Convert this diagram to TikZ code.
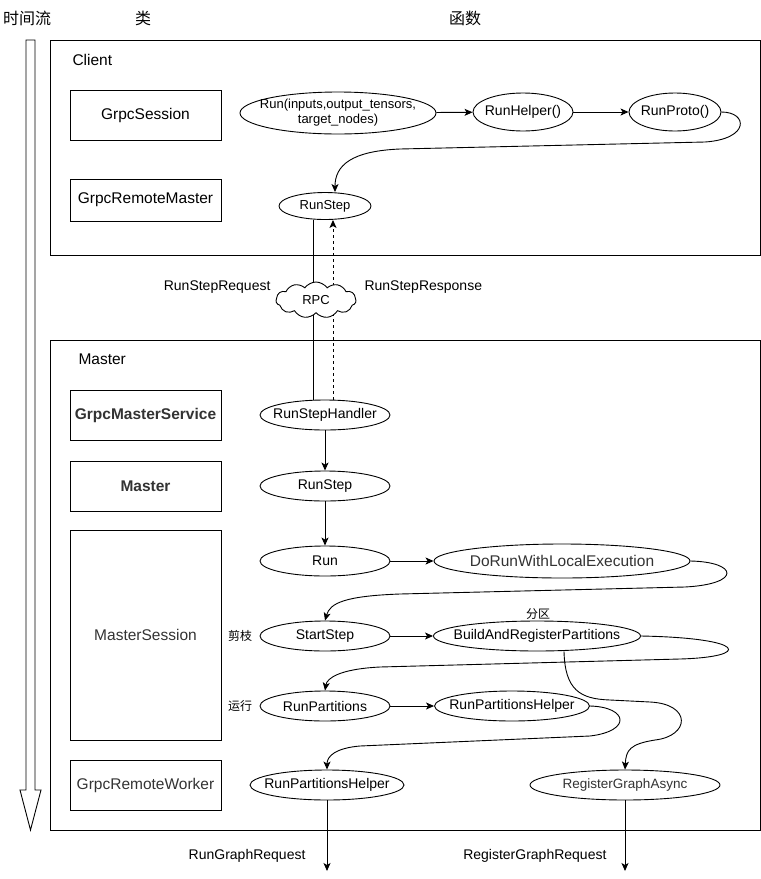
\documentclass[tikz,border=0pt]{standalone}
\usepackage{fontspec}
\setmainfont{Liberation Sans}
\newfontfamily\cjk{Noto Sans CJK SC}
\usetikzlibrary{shapes.geometric,shapes.symbols,arrows.meta}
\definecolor{dg}{HTML}{333333}
\begin{document}
\begin{tikzpicture}[x=1pt,y=-1pt,
  every node/.style={font=\fontsize{14}{16}\selectfont},
  cls/.style={draw, line width=1pt, minimum width=151pt, minimum height=50pt, inner sep=0pt, font=\fontsize{15.5}{18}\selectfont},
  fn/.style={draw, ellipse, line width=0.9pt, inner xsep=-60pt, inner ysep=-20pt, minimum height=30pt, font=\fontsize{14}{16}\selectfont},
  arr/.style={line width=0.9pt, -{Stealth[length=8pt,width=7pt,inset=2pt]}},
  ln/.style={line width=0.9pt},
  cont/.style={draw, line width=1pt},
  cn/.style={font=\cjk\fontsize{12}{14}\selectfont},
  tl/.style={font=\cjk\fontsize{16}{18}\selectfont},
]
\useasboundingbox (0,0) rectangle (761,879);
\fill[white] (0,0) rectangle (761,879);

% top labels
\node[tl] (t1) at (27,18) {时间流};
\node[tl] (t2) at (143,18) {类};
\node[tl] (t3) at (465,18) {函数};

% time arrow
\draw[line width=0.9pt] (26,40) -- (35,40) -- (35,790) -- (41,790) -- (30.5,830) -- (20,790) -- (26,790) -- cycle;

% containers
\draw[cont] (50,40) rectangle (760,255);
\draw[cont] (50,340) rectangle (760,830);
\node[anchor=west, font=\fontsize{15.5}{18}\selectfont] (clientlbl) at (69,60) {Client};
\node[anchor=west, font=\fontsize{15.5}{18}\selectfont] (masterlbl) at (75,359) {Master};

% class boxes
\node[cls] (gs) at (145.5,115) {GrpcSession};
\node[cls, minimum height=42pt] (grm) at (145.5,200) {GrpcRemoteMaster};
\node[cls, text=dg, font=\bfseries\fontsize{15.5}{18}\selectfont] (gms) at (145.5,415) {GrpcMasterService};
\node[cls, text=dg, font=\bfseries\fontsize{15.5}{18}\selectfont] (mst) at (145.5,486) {Master};
\node[cls, text=dg, minimum height=210pt] (ms) at (145.5,635) {MasterSession};
\node[cls, text=dg] (grw) at (145.5,785) {GrpcRemoteWorker};

% client functions
\node[fn, minimum width=196pt, minimum height=42pt, align=center, font=\fontsize{13}{15}\selectfont] (crun) at (338,113) {Run(inputs,output\_tensors,\\target\_nodes)};
\node[fn, minimum width=100pt, minimum height=38pt] (crh) at (523,112) {RunHelper()};
\node[fn, minimum width=92pt, minimum height=38pt] (crp) at (675,112) {RunProto()};
\node[fn, minimum width=92pt, minimum height=27pt, font=\fontsize{13}{15}\selectfont] (crs) at (325,206) {RunStep};

\draw[arr] (crun) -- (crh);
\draw[arr] (crh) -- (crp);
\draw[arr] (crp.east) .. controls (748,112) and (750,139) .. (705,142) -- (400,149) .. controls (352,151) and (335,165) .. ([xshift=10pt]crs.north);

% master functions
\node[fn, minimum width=130pt] (rsh) at (325,415) {RunStepHandler};
\node[fn, minimum width=130pt] (mrs) at (325,486) {RunStep};
\node[fn, minimum width=130pt] (run) at (325,561) {Run};
\node[fn, minimum width=256pt, minimum height=34pt, text=dg, font=\fontsize{15.5}{18}\selectfont] (dor) at (562,561) {DoRunWithLocalExecution};
\node[fn, minimum width=130pt] (ss) at (325,636) {StartStep};
\node[fn, minimum width=207pt] (barp) at (537,636) {BuildAndRegisterPartitions};
\node[fn, minimum width=130pt] (rp) at (325,706) {RunPartitions};
\node[fn, minimum width=155pt] (rph) at (512,706) {RunPartitionsHelper};
\node[fn, minimum width=154pt] (rph2) at (327,785) {RunPartitionsHelper};
\node[fn, minimum width=190pt, text=dg, font=\fontsize{13.5}{16}\selectfont] (rga) at (625,785) {RegisterGraphAsync};

\node[cn] (jz) at (240,636) {剪枝};
\node[cn] (yx) at (240,706) {运行};
\node[cn] (fq) at (538,614) {分区};

% RPC link
\draw[ln] ([xshift=-12pt]crs.south) -- ([xshift=-12pt]rsh.north);
\draw[arr, dashed] ([xshift=8pt]rsh.north) -- ([xshift=8pt]crs.south);
\node[cloud, draw, fill=white, line width=0.9pt, cloud puffs=11, cloud puff arc=110, aspect=2.3, minimum width=80pt, minimum height=36pt, inner sep=0pt, font=\fontsize{13}{15}\selectfont] (rpc) at (316,300) {RPC};
\node[anchor=east] (rsreq) at (274,287) {RunStepRequest};
\node[anchor=west] (rsresp) at (361,287) {RunStepResponse};

\draw[arr] (rsh) -- (mrs);
\draw[arr] (mrs) -- (run);
\draw[arr] (run) -- (dor);
\draw[arr] (dor.east) .. controls (738,562) and (742,584) .. (685,587) -- (400,594) .. controls (345,596) and (330,603) .. (ss.north);
\draw[arr] (ss) -- (barp);
\draw[arr] (barp.east) .. controls (748,638) and (752,657) .. (680,659) -- (380,667) .. controls (340,669) and (327,678) .. (rp.north);
\draw[arr] ([xshift=27pt]barp.south) .. controls (565,690) and (580,699) .. (610,700) -- (650,702) .. controls (692,704) and (690,736) .. (655,740) .. controls (630,744) and (626,750) .. (rga.north);
\draw[arr] (rp) -- (rph);
\draw[arr] (rph.east) .. controls (628,707) and (632,731) .. (590,736) -- (360,746) .. controls (336,748) and (327,756) .. (rph2.north);

% outgoing
\coordinate (o1) at (327,871);
\coordinate (o2) at (625,871);
\draw[arr] (rph2) -- (o1);
\draw[arr] (rga) -- (o2);
\node[anchor=east] (rgr) at (309,856) {RunGraphRequest};
\node[anchor=east] (rgreq) at (610,856) {RegisterGraphRequest};
\end{tikzpicture}
\end{document}
